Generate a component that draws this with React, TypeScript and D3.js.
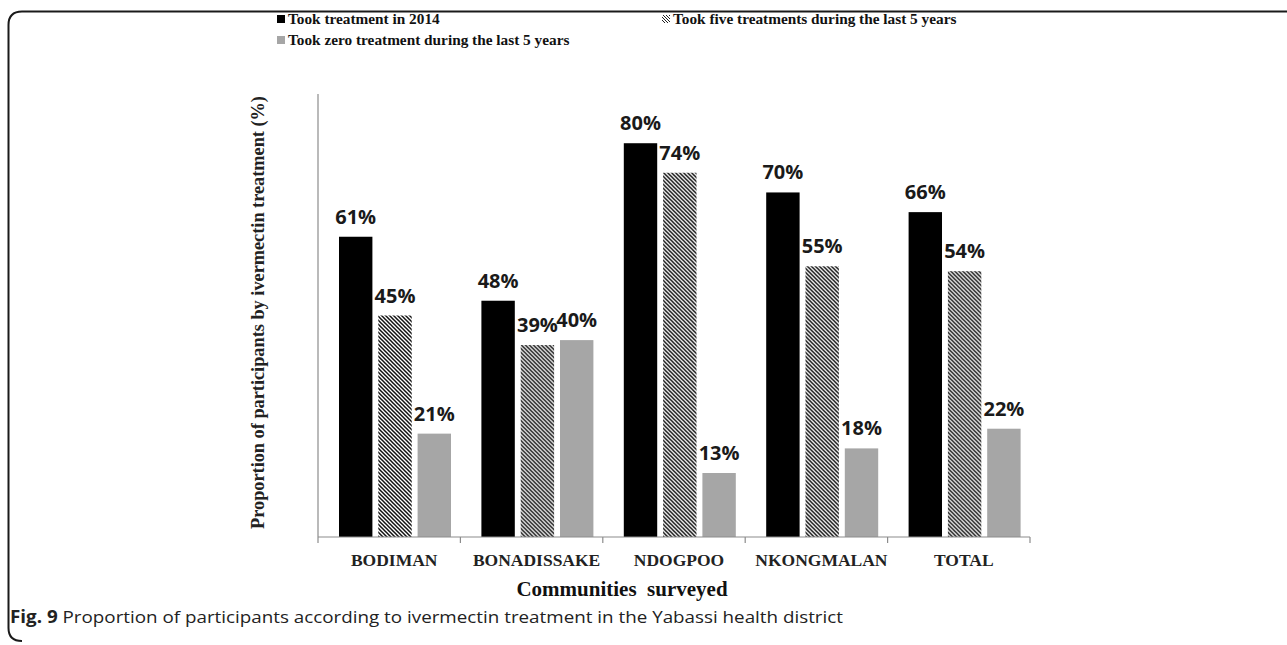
import React from "react";
import * as d3 from "d3";

const categories = ["BODIMAN", "BONADISSAKE", "NDOGPOO", "NKONGMALAN", "TOTAL"];
const seriesNames = [
  "Took treatment in 2014",
  "Took five treatments during the last 5 years",
  "Took zero treatment during the last 5 years",
];
const took2014 = [61, 48, 80, 70, 66];
const tookFive = [45, 39, 74, 55, 54];
const tookZero = [21, 40, 13, 18, 22];
const seriesValues = [took2014, tookFive, tookZero];
const yDomain = [0, 90];

const W = 1287;
const H = 645;

export default function App() {
  const x0 = d3.scaleBand<string>().domain(categories).range([318, 1030]).padding(0);
  const x1 = d3
    .scaleBand<string>()
    .domain(seriesNames)
    .range([21, 133])
    .paddingInner(0.15)
    .paddingOuter(0);
  const y = d3.scaleLinear().domain(yDomain).range([537, 94]);

  const fills = ["#000000", "url(#hatch)", "#a6a6a6"];
  const serif = "'Liberation Serif', 'Times New Roman', serif";
  const sans = "'Open Sans', 'Noto Sans', sans-serif";

  const ticks = categories.map((c) => x0(c)!).concat([x0.range()[1]]);

  return (
    <svg
      width={W}
      height={H}
      style={{ position: "absolute", left: 0, top: 0, background: "#fff" }}
    >
      <defs>
        <pattern id="hatch" width="4" height="4" patternUnits="userSpaceOnUse">
          <rect width="4" height="4" fill="#fff" />
          <path d="M-1,-1 L5,5 M-1,3 L1,5 M3,-1 L5,1" stroke="#111" strokeWidth="1.5" />
        </pattern>
        <pattern id="hatchSmall" width="3" height="3" patternUnits="userSpaceOnUse">
          <rect width="3" height="3" fill="#fff" />
          <path d="M-1,-1 L4,4 M-1,2 L1,4 M2,-1 L4,1" stroke="#222" strokeWidth="1" />
        </pattern>
      </defs>

      {/* frame */}
      <path
        d="M1287,11.5 H22 Q8.5,11.5 8.5,25 V628 Q8.5,641 22,641"
        fill="none"
        stroke="#1a1a1a"
        strokeWidth={2}
      />

      {/* legend */}
      <g fontFamily={serif} fontWeight="bold" fontSize={15.3} fill="#111">
        <rect x={277} y={15} width={8} height={8} fill="#000" />
        <text x={288} y={24}>{seriesNames[0]}</text>
        <rect x={662} y={15} width={8} height={8} fill="url(#hatchSmall)" />
        <text x={673} y={24}>{seriesNames[1]}</text>
        <rect x={277} y={36} width={8} height={8} fill="#a6a6a6" />
        <text x={288} y={45}>{seriesNames[2]}</text>
      </g>

      {/* y axis title */}
      <text
        transform={`translate(264,${(95 + 530) / 2}) rotate(-90)`}
        textAnchor="middle"
        fontFamily={serif}
        fontWeight="bold"
        fontSize={18.3}
        fill="#222"
      >
        Proportion of participants by ivermectin treatment (%)
      </text>

      {/* bars */}
      {categories.map((c, i) => (
        <g key={c} transform={`translate(${x0(c)},0)`}>
          {seriesNames.map((s, j) => {
            const v = seriesValues[j][i];
            const bx = x1(s)!;
            const bw = x1.bandwidth();
            return (
              <g key={s}>
                <rect x={bx} y={y(v)} width={bw} height={y(0) - y(v)} fill={fills[j]} />
                <text
                  x={bx + bw / 2}
                  y={y(v) - 13}
                  textAnchor="middle"
                  fontFamily={sans}
                  fontWeight="bold"
                  fontSize={20}
                  fill="#1a1a1a"
                >
                  {v}%
                </text>
              </g>
            );
          })}
        </g>
      ))}

      {/* axes */}
      <line x1={318} x2={318} y1={y(yDomain[1])} y2={y(0)} stroke="#8c8c8c" strokeWidth={1.2} />
      <line x1={318} x2={1030} y1={y(0)} y2={y(0)} stroke="#8c8c8c" strokeWidth={1.2} />
      {ticks.map((t, i) => (
        <line key={i} x1={t} x2={t} y1={y(0)} y2={y(0) + 6} stroke="#8c8c8c" strokeWidth={1.2} />
      ))}
      {categories.map((c) => (
        <text
          key={c}
          x={x0(c)! + x0.bandwidth() / 2 + 5}
          y={566}
          textAnchor="middle"
          fontFamily={serif}
          fontWeight="bold"
          fontSize={17.5}
          fill="#222"
        >
          {c}
        </text>
      ))}

      {/* x axis title */}
      <text
        x={622}
        y={596}
        textAnchor="middle"
        fontFamily={serif}
        fontWeight="bold"
        fontSize={21}
        fill="#111"
        style={{ whiteSpace: "pre" }}
      >
        {"Communities  surveyed"}
      </text>

      {/* caption */}
      <text
        x={10}
        y={623}
        fontFamily="'Liberation Sans Narrow', 'Open Sans', sans-serif"
        fontSize={17}
        fill="#222"
        textLength={833}
        lengthAdjust="spacingAndGlyphs"
      >
        <tspan fontWeight="bold">Fig. 9</tspan>
        <tspan> Proportion of participants according to ivermectin treatment in the Yabassi health district</tspan>
      </text>
    </svg>
  );
}
